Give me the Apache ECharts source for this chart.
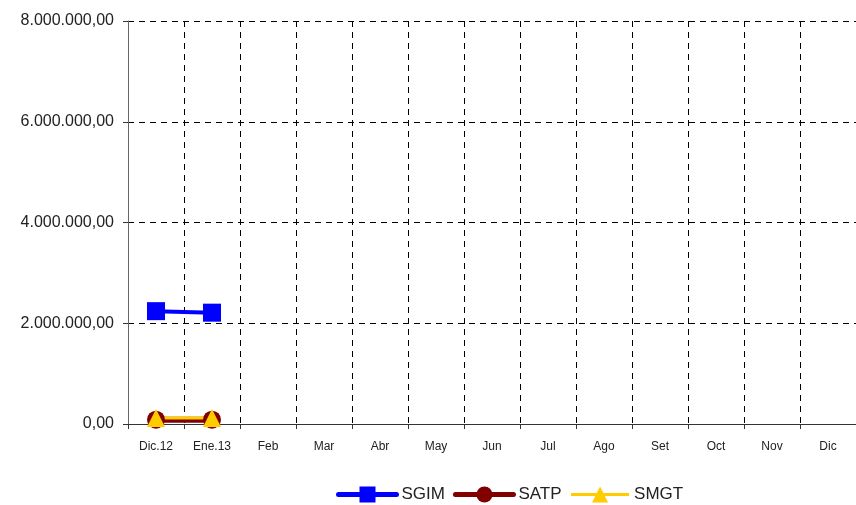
<!DOCTYPE html>
<html><head><meta charset="utf-8">
<script src="https://cdn.jsdelivr.net/npm/echarts@6/dist/echarts.min.js"></script>
<style>html,body{margin:0;padding:0;background:#fff}#c{width:856px;height:505px}</style>
</head><body><div id="c"></div>
<script>
const categories = ['Dic.12','Ene.13','Feb','Mar','Abr','May','Jun','Jul','Ago','Set','Oct','Nov','Dic'];
const sgim = [2240000, 2210000, null, null, null, null, null, null, null, null, null, null, null];
const satp = [85000, 85000, null, null, null, null, null, null, null, null, null, null, null];
const smgt = [120000, 120000, null, null, null, null, null, null, null, null, null, null, null];
const yTicks = [0, 2000000, 4000000, 6000000, 8000000];

const font = '"Liberation Sans Narrow", "Liberation Sans", sans-serif';
function fmt(v){
  const s = Math.round(v).toString().replace(/\B(?=(\d{3})+(?!\d))/g, '.');
  return s + ',00';
}
const chart = echarts.init(document.getElementById('c'), null, {renderer:'canvas'});
chart.setOption({
  animation:false,
  backgroundColor:'#fff',
  grid:{left:128, top:21, width:730, height:403, containLabel:false},
  xAxis:{
    type:'category', data:categories, boundaryGap:true,
    axisLine:{lineStyle:{color:'#333', width:1}},
    axisTick:{show:true, alignWithLabel:false, length:5, lineStyle:{color:'#333'}},
    axisLabel:{fontFamily:font, fontSize:12, color:'#222', margin:17},
    splitLine:{show:true, lineStyle:{color:'#000', type:[6,5], width:1}}
  },
  yAxis:{
    type:'value', min:yTicks[0], max:yTicks[yTicks.length-1], interval:2000000,
    axisLine:{show:true, lineStyle:{color:'#666', width:1}},
    axisTick:{show:true, length:5, lineStyle:{color:'#333'}},
    axisLabel:{fontFamily:font, fontSize:16, color:'#222', margin:14, formatter:fmt},
    splitLine:{show:true, lineStyle:{color:'#000', type:[6,5], width:1}}
  },
  legend:{
    top:481, left:331, itemWidth:58, itemHeight:20, itemGap:8,
    textStyle:{fontFamily:font, fontSize:17, color:'#222'},
    data:[
      {name:'SGIM', lineStyle:{width:5, cap:'round'}},
      {name:'SATP', lineStyle:{width:5, cap:'round'}},
      {name:'SMGT', lineStyle:{width:3}}
    ]
  },
  series:[
    {name:'SGIM', type:'line', data:sgim, symbol:'rect', symbolSize:18,
     lineStyle:{color:'#0000ff', width:4}, itemStyle:{color:'#0000ff'}},
    {name:'SATP', type:'line', data:satp, symbol:'circle', symbolSize:18,
     lineStyle:{color:'#800000', width:6}, itemStyle:{color:'#800000'}},
    {name:'SMGT', type:'line', data:smgt, symbol:'triangle', symbolSize:18,
     lineStyle:{color:'#ffcc00', width:3}, itemStyle:{color:'#ffcc00'}}
  ]
});
</script></body></html>
